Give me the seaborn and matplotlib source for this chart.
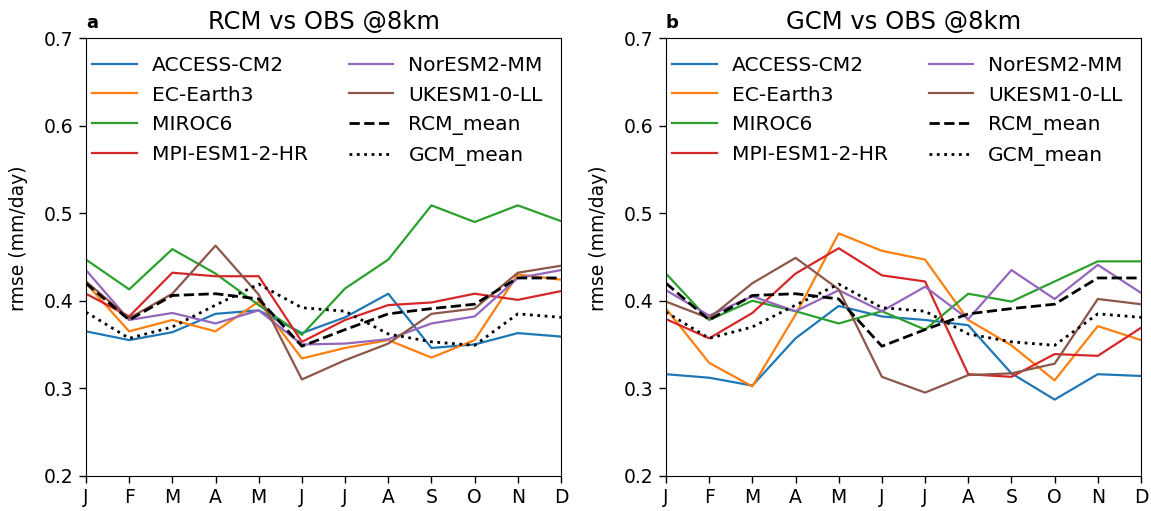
import matplotlib
matplotlib.use("Agg")
import matplotlib.pyplot as plt
import seaborn as sns
import pandas as pd

months = ["J", "F", "M", "A", "M", "J", "J", "A", "S", "O", "N", "D"]
models = ["ACCESS-CM2", "EC-Earth3", "MIROC6", "MPI-ESM1-2-HR", "NorESM2-MM", "UKESM1-0-LL"]

# Panel a: RCM vs OBS
rcm_access = [0.365, 0.355, 0.364, 0.385, 0.389, 0.363, 0.381, 0.408, 0.346, 0.350, 0.363, 0.359]
rcm_ec     = [0.420, 0.365, 0.378, 0.365, 0.399, 0.334, 0.346, 0.355, 0.335, 0.355, 0.430, 0.424]
rcm_miroc  = [0.447, 0.413, 0.459, 0.431, 0.395, 0.361, 0.414, 0.447, 0.509, 0.490, 0.509, 0.491]
rcm_mpi    = [0.408, 0.382, 0.432, 0.428, 0.428, 0.353, 0.378, 0.395, 0.398, 0.408, 0.401, 0.411]
rcm_nor    = [0.435, 0.378, 0.386, 0.374, 0.389, 0.350, 0.351, 0.356, 0.374, 0.382, 0.426, 0.435]
rcm_uk     = [0.422, 0.380, 0.408, 0.463, 0.407, 0.310, 0.332, 0.351, 0.385, 0.391, 0.432, 0.440]

# Panel b: GCM vs OBS
gcm_access = [0.316, 0.312, 0.303, 0.357, 0.394, 0.382, 0.378, 0.372, 0.317, 0.287, 0.316, 0.314]
gcm_ec     = [0.391, 0.329, 0.302, 0.384, 0.477, 0.457, 0.447, 0.378, 0.349, 0.309, 0.371, 0.355]
gcm_miroc  = [0.431, 0.378, 0.400, 0.388, 0.374, 0.388, 0.367, 0.408, 0.399, 0.422, 0.445, 0.445]
gcm_mpi    = [0.379, 0.357, 0.386, 0.431, 0.460, 0.429, 0.422, 0.316, 0.313, 0.339, 0.337, 0.369]
gcm_nor    = [0.412, 0.383, 0.405, 0.388, 0.412, 0.388, 0.416, 0.379, 0.435, 0.402, 0.441, 0.409]
gcm_uk     = [0.399, 0.380, 0.420, 0.449, 0.413, 0.313, 0.295, 0.315, 0.317, 0.328, 0.402, 0.396]

rcm_mean = [0.420, 0.378, 0.406, 0.408, 0.402, 0.348, 0.367, 0.385, 0.391, 0.396, 0.426, 0.426]
gcm_mean = [0.387, 0.357, 0.370, 0.395, 0.419, 0.392, 0.388, 0.362, 0.353, 0.349, 0.385, 0.381]

yticks = [0.2, 0.3, 0.4, 0.5, 0.6, 0.7]
titles = ["RCM vs OBS @8km", "GCM vs OBS @8km"]
panel_labels = ["a", "b"]

colors = sns.color_palette("tab10", 6)

panels = [
    [rcm_access, rcm_ec, rcm_miroc, rcm_mpi, rcm_nor, rcm_uk],
    [gcm_access, gcm_ec, gcm_miroc, gcm_mpi, gcm_nor, gcm_uk],
]

fig = plt.figure(figsize=(11.51, 5.11), dpi=100)
ax_a = fig.add_axes([0.0747, 0.0691, 0.4127, 0.856])
ax_b = fig.add_axes([0.5786, 0.0691, 0.4127, 0.856])

x = list(range(len(months)))
for ax, series, title, plab in zip([ax_a, ax_b], panels, titles, panel_labels):
    for name, vals, col in zip(models, series, colors):
        df = pd.DataFrame({"month": x, "rmse": vals})
        sns.lineplot(data=df, x="month", y="rmse", ax=ax, color=col, lw=1.6, label=name)
    df = pd.DataFrame({"month": x, "rmse": rcm_mean})
    sns.lineplot(data=df, x="month", y="rmse", ax=ax, color="black", lw=2.0, ls="--", label="RCM_mean")
    df = pd.DataFrame({"month": x, "rmse": gcm_mean})
    sns.lineplot(data=df, x="month", y="rmse", ax=ax, color="black", lw=2.0, ls=":", label="GCM_mean")

    ax.set_xlim(0, 11)
    ax.set_ylim(0.2, 0.7)
    ax.set_xticks(x)
    ax.set_xticklabels(months, fontsize=13.5)
    ax.set_yticks(yticks)
    ax.set_yticklabels([f"{v:.1f}" for v in yticks], fontsize=13.5)
    ax.tick_params(length=5, width=1, pad=4)
    ax.set_xlabel("")
    ax.set_ylabel("rmse (mm/day)", fontsize=13.5)
    ax.yaxis.set_label_coords(-0.122, 0.543)
    ax.set_title(title, fontsize=17.5, pad=7)
    ax.text(0.0, 1.015, plab, transform=ax.transAxes, fontsize=13,
            fontweight="bold", ha="left", va="bottom")
    ax.legend(ncol=2, frameon=False, loc="upper left", fontsize=14.6,
              handlelength=2.2, handletextpad=0.75, labelspacing=0.52,
              columnspacing=2.0, borderaxespad=0.0,
              bbox_to_anchor=(-0.004, 0.978))

fig.savefig("out.png", dpi=100)
